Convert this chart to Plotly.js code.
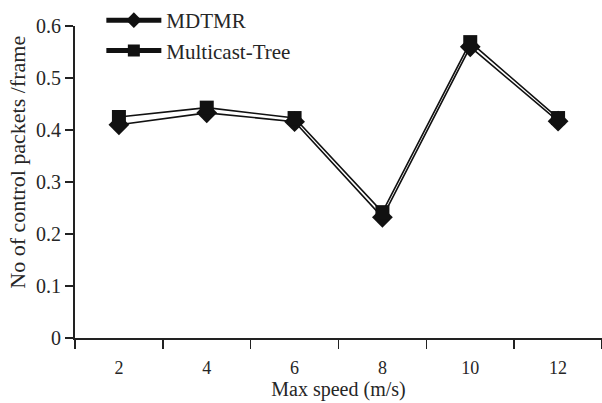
<!DOCTYPE html>
<html>
<head>
<meta charset="utf-8">
<script src="https://cdn.plot.ly/plotly-3.0.1.min.js"></script>
<style>html,body{margin:0;padding:0;background:#fff;}#chart{width:602px;height:403px;}</style>
</head>
<body>
<div id="chart"></div>
<script>
const speeds = ['2', '4', '6', '8', '10', '12'];
const mdtmr = [0.410, 0.433, 0.416, 0.232, 0.560, 0.417];
const multicastTree = [0.425, 0.443, 0.423, 0.242, 0.569, 0.423];
const yTicks = [0, 0.1, 0.2, 0.3, 0.4, 0.5, 0.6];
const yTickLabels = ['0', '0.1', '0.2', '0.3', '0.4', '0.5', '0.6'];
const xTitle = 'Max speed (m/s)';
const yTitle = 'No of control packets /frame';

const fam = 'Liberation Serif';
const col = '#262626';

const traces = [
  {
    x: speeds, y: mdtmr, name: 'MDTMR', type: 'scatter', mode: 'lines+markers',
    line: {color: '#111', width: 1.6},
    marker: {symbol: 'diamond', size: 16, color: '#111'}
  },
  {
    x: speeds, y: multicastTree, name: 'Multicast-Tree', type: 'scatter', mode: 'lines+markers',
    line: {color: '#111', width: 1.6},
    marker: {symbol: 'square', size: 14, color: '#111'}
  }
];

const layout = {
  width: 602, height: 403,
  margin: {l: 75, r: 0, t: 23, b: 65},
  paper_bgcolor: '#fff', plot_bgcolor: '#fff',
  font: {family: fam, size: 20, color: col},
  showlegend: true,
  legend: {
    x: 0.05, y: 1.085, xanchor: 'left', yanchor: 'top',
    bgcolor: 'rgba(0,0,0,0)', font: {family: fam, size: 21, color: col},
    tracegroupgap: 0, itemsizing: 'constant', itemwidth: 55
  },
  xaxis: {
    type: 'category',
    range: [-0.5, 5.5],
    tickson: 'boundaries',
    ticks: 'outside', ticklen: 9, tickwidth: 1.5, tickcolor: '#222',
    ticklabelstandoff: 12,
    showline: true, linecolor: '#222', linewidth: 2,
    showgrid: false, zeroline: false,
    tickfont: {family: fam, size: 18, color: col},
    title: {text: xTitle, font: {family: fam, size: 20, color: col}, standoff: 1}
  },
  yaxis: {
    range: [0, 0.6],
    tickvals: yTicks, ticktext: yTickLabels,
    ticks: 'outside', ticklen: 8, tickwidth: 1.5, tickcolor: '#222',
    showline: true, linecolor: '#222', linewidth: 2,
    showgrid: false, zeroline: false,
    tickfont: {family: fam, size: 20, color: col}
  },
  annotations: [{
    text: yTitle, textangle: -90, showarrow: false,
    xref: 'paper', yref: 'paper', x: -0.108, y: 0.562,
    xanchor: 'center', yanchor: 'middle',
    font: {family: fam, size: 22, color: col}
  }]
};

Plotly.newPlot('chart', traces, layout, {displayModeBar: false, staticPlot: true});
</script>
</body>
</html>
